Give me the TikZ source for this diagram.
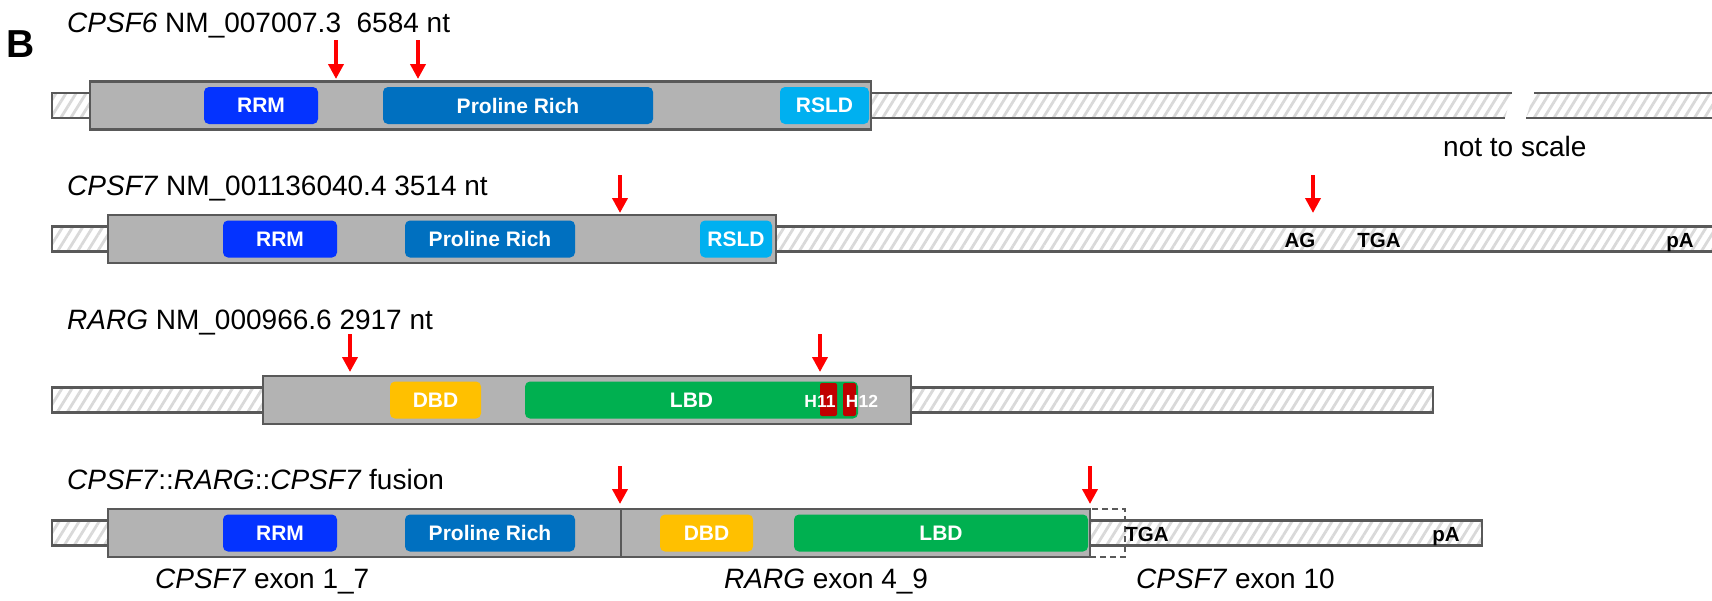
\documentclass[tikz,border=0pt]{standalone}
\usepackage{fontspec}
\setmainfont{Liberation Sans}
\usetikzlibrary{arrows.meta,patterns.meta}

\definecolor{cdsgray}{HTML}{B3B3B3}
\definecolor{edgegray}{HTML}{595959}
\definecolor{hatchc}{HTML}{D9D9D9}
\definecolor{rrmc}{HTML}{0433FF}
\definecolor{proc}{HTML}{0070C0}
\definecolor{rsldc}{HTML}{00B0F0}
\definecolor{dbdc}{HTML}{FFC000}
\definecolor{lbdc}{HTML}{00B050}
\definecolor{helixc}{HTML}{C00000}
\definecolor{arrowred}{HTML}{FF0000}

\newcommand\titlefont{\fontsize{28}{34}\selectfont}
\newcommand\domfont{\fontsize{21}{25}\selectfont\bfseries}
\newcommand\sitefont{\fontsize{20.5}{24}\selectfont\bfseries}
\newcommand\helixfont{\fontsize{17.5}{21}\selectfont\bfseries}

\tikzset{
  cds/.style={draw=edgegray, fill=cdsgray, line width=2.4pt, minimum height=48pt, inner sep=0pt},
  utr/.style={draw=edgegray, line width=2.4pt,
    pattern={Lines[angle=58,distance=8.5pt,line width=2.8pt]}, pattern color=hatchc},
  utrfill/.style={pattern={Lines[angle=58,distance=8.5pt,line width=2.8pt]}, pattern color=hatchc},
  utredge/.style={draw=edgegray, line width=2.4pt},
  dom/.style={rounded corners=5pt, minimum height=37pt, inner sep=0pt, text=white, font=\domfont},
  helix/.style={fill=helixc, rounded corners=2pt, minimum height=33pt, inner sep=0pt},
  title/.style={anchor=base west, inner sep=0pt, font=\titlefont},
  site/.style={anchor=base, inner sep=0pt, font=\sitefont},
  hlabel/.style={anchor=base, inner sep=0pt, font=\helixfont, text=white},
  redarrow/.style={draw=arrowred, line width=4pt, -{Triangle[width=15pt,length=15pt]}},
  joint/.style={draw=edgegray, line width=1.6pt},
  exonpart/.style={draw=edgegray, line width=2.2pt, dash pattern=on 6pt off 4pt},
}

\begin{document}
\begin{tikzpicture}[x=1pt,y=-1pt]
\fill[white] (0,0) rectangle (1712,600);
\useasboundingbox (0,0) rectangle (1712,600);

% panel letter
\node[anchor=base west, inner sep=0pt, font=\fontsize{39}{44}\selectfont\bfseries] (panel) at (6,57) {B};

% ---------------- CPSF6 ----------------
\node[title] (t1) at (67,32) {\textit{CPSF6} NM\_007007.3\ \ 6584 nt};
\draw[utr] (52,93) rectangle (100,118);
% 3' UTR with a break
\fill[utrfill] (860,93) -- (1512,93) -- (1505,118) -- (860,118) -- cycle;
\draw[utredge] (860,93) -- (1512,93);
\draw[utredge] (860,118) -- (1505,118);
\fill[utrfill] (1534,93) -- (1716,93) -- (1716,118) -- (1526,118) -- cycle;
\draw[utredge] (1534,93) -- (1716,93);
\draw[utredge] (1526,118) -- (1716,118);
\node[cds, minimum width=781pt] (cds1) at (480.5,105.5) {};
\node[dom, fill=rrmc, minimum width=114pt] (rrm1) at (261,105.5) {RRM};
\node[dom, fill=proc, minimum width=270pt] (pro1) at (518,105.5) {Proline Rich};
\node[dom, fill=rsldc, minimum width=89pt] (rsld1) at (824.5,105.5) {RSLD};
\node[anchor=base west, inner sep=0pt, font=\titlefont] (nts) at (1443,156) {not to scale};
\coordinate (a1s) at (336,40); \coordinate (a1e) at (336,79);
\coordinate (a2s) at (418,40); \coordinate (a2e) at (418,79);
\draw[redarrow] (a1s) -- (a1e);
\draw[redarrow] (a2s) -- (a2e);

% ---------------- CPSF7 ----------------
\node[title] (t2) at (67,195) {\textit{CPSF7} NM\_001136040.4 3514 nt};
\draw[utr] (52,226.5) rectangle (1716,251.5);
\node[cds, minimum width=668pt] (cds2) at (442,239) {};
\node[dom, fill=rrmc, minimum width=114pt] (rrm2) at (280,239) {RRM};
\node[dom, fill=proc, minimum width=170pt] (pro2) at (490,239) {Proline Rich};
\node[dom, fill=rsldc, minimum width=72pt] (rsld2) at (736,239) {RSLD};
\node[site] (ag2) at (1300,247) {AG};
\node[site] (tga2) at (1379,247) {TGA};
\node[site] (pa2) at (1680,247) {pA};
\coordinate (b1s) at (620,175); \coordinate (b1e) at (620,213);
\coordinate (b2s) at (1313,175); \coordinate (b2e) at (1313,213);
\draw[redarrow] (b1s) -- (b1e);
\draw[redarrow] (b2s) -- (b2e);

% ---------------- RARG ----------------
\node[title] (t3) at (67,329) {\textit{RARG} NM\_000966.6 2917 nt};
\draw[utr] (52,387.5) rectangle (1433,412.5);
\node[cds, minimum width=648pt] (cds3) at (587,400) {};
\node[dom, fill=dbdc, minimum width=91pt] (dbd3) at (435.5,400) {DBD};
\node[dom, fill=lbdc, minimum width=333pt] (lbd3) at (691.5,400) {LBD};
\node[helix, minimum width=17pt] (h11box) at (828.5,399.5) {};
\node[helix, minimum width=13pt] (h12box) at (849.5,399.5) {};
\node[hlabel] (h11) at (820,407) {H11};
\node[hlabel] (h12) at (862,407) {H12};
\coordinate (c1s) at (350,334); \coordinate (c1e) at (350,372);
\coordinate (c2s) at (820,334); \coordinate (c2e) at (820,372);
\draw[redarrow] (c1s) -- (c1e);
\draw[redarrow] (c2s) -- (c2e);

% ---------------- fusion ----------------
\node[title] (t4) at (67,489) {\textit{CPSF7}::\textit{RARG}::\textit{CPSF7} fusion};
\draw[utr] (52,520.5) rectangle (1482,545.5);
\node[cds, minimum width=982pt] (cds4) at (599,533) {};
\coordinate (j1) at (621,509); \coordinate (j2) at (621,557);
\draw[joint] (j1) -- (j2);
\node[dom, fill=rrmc, minimum width=114pt] (rrm4) at (280,533) {RRM};
\node[dom, fill=proc, minimum width=170pt] (pro4) at (490,533) {Proline Rich};
\node[dom, fill=dbdc, minimum width=93pt] (dbd4) at (706.5,533) {DBD};
\node[dom, fill=lbdc, minimum width=294pt] (lbd4) at (941,533) {LBD};
\node[exonpart, minimum width=35pt, minimum height=48pt, inner sep=0pt] (ex10) at (1107.5,533) {};
\node[site] (tga4) at (1147,541) {TGA};
\node[site] (pa4) at (1446,541) {pA};
\coordinate (d1s) at (620,466); \coordinate (d1e) at (620,504);
\coordinate (d2s) at (1090,466); \coordinate (d2e) at (1090,504);
\draw[redarrow] (d1s) -- (d1e);
\draw[redarrow] (d2s) -- (d2e);

\node[title] (e1) at (155,588) {\textit{CPSF7} exon 1\_7};
\node[title] (e2) at (724,588) {\textit{RARG} exon 4\_9};
\node[title] (e3) at (1136,588) {\textit{CPSF7} exon 10};
\end{tikzpicture}
\end{document}
